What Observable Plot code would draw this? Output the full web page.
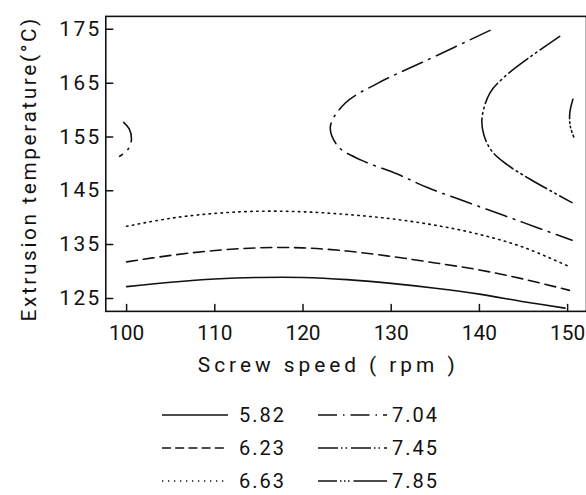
<!DOCTYPE html>
<html><head><meta charset="utf-8">
<script src="https://cdn.jsdelivr.net/npm/d3@7"></script>
<script src="https://cdn.jsdelivr.net/npm/@observablehq/plot@0.6"></script>
<style>
html,body{margin:0;padding:0;background:#fff;overflow:hidden;width:586px;height:495px;}
#chart svg{display:block;}
#legend{display:grid;grid-template-columns:156px auto;grid-auto-rows:33px;margin-left:162px;padding-top:6.5px;font-family:Roboto,"DejaVu Sans",sans-serif;font-size:20px;line-height:20px;letter-spacing:2px;color:#111;}
.item{display:flex;align-items:center;}
.item svg{display:block;margin-right:11px;}
.item.c2 svg{margin-right:5px;}
</style></head><body><div id="chart"></div><div id="legend"></div>
<script>
// ---- data ----
const levels = ["5.82", "6.23", "6.63", "7.04", "7.45", "7.85"];
const xTicks = [100, 110, 120, 130, 140, 150];
const yTicks = [125, 135, 145, 155, 165, 175];
const xLabel = "Screw speed ( rpm )";
const yLabel = "Extrusion temperature(°C)";

const c582_x = [100, 105, 110, 115, 120, 125, 130, 135, 140, 145, 149.7];
const c582_y = [127.2, 128.0, 128.6, 128.9, 128.9, 128.5, 127.8, 126.9, 125.8, 124.4, 123.2];
const c623_x = [100, 105, 110, 115, 120, 125, 130, 135, 140, 145, 150.2];
const c623_y = [131.8, 133.0, 133.9, 134.4, 134.4, 133.8, 132.8, 131.6, 130.3, 128.6, 126.5];
const c663_x = [100, 105, 110, 115, 120, 125, 130, 135, 140, 145, 150.2];
const c663_y = [138.4, 139.9, 140.8, 141.2, 141.1, 140.6, 139.8, 138.6, 136.9, 134.5, 130.9];
const c704a_x = [99.66, 100.3, 100.55, 100.2, 99.2];
const c704a_y = [157.7, 156.5, 154.6, 152.8, 151.4];
const c704b_x = [141.2, 134.1, 128.5, 124.8, 123.1, 124.0, 126.6, 130.7, 134.1, 138.25, 142.8, 146.5, 150.5];
const c704b_y = [174.8, 169.3, 165.0, 161.3, 156.9, 153.2, 150.7, 148.1, 145.6, 143.1, 140.4, 138.2, 135.8];
const c745_x = [149.1, 145.7, 142.8, 141.2, 140.3, 140.5, 141.4, 143.1, 145.8, 150.5];
const c745_y = [173.7, 169.8, 166.1, 163.2, 158.6, 155.4, 152.4, 149.9, 147.1, 142.8];
const c785_x = [150.6, 150.25, 150.3, 150.7];
const c785_y = [162.0, 159.5, 157.0, 155.0];

// segments: [level, xs, ys]
const segments = [
  ["5.82", c582_x, c582_y],
  ["6.23", c623_x, c623_y],
  ["6.63", c663_x, c663_y],
  ["7.04", c704a_x, c704a_y],
  ["7.04", c704b_x, c704b_y],
  ["7.45", c745_x, c745_y],
  ["7.85", c785_x, c785_y]
];

// ---- styles ----
const chartDash = {
  "5.82": null,
  "6.23": "11,6",
  "6.63": "1.5,4.5",
  "7.04": "22,7,1.6,7",
  "7.45": "24,4,1.6,4,1.6,4",
  "7.85": "20,3,1.6,3,1.6,3,1.6,3"
};
const legendDash = {
  "5.82": null,
  "6.23": "9,4.2",
  "6.63": "1.3,4.7",
  "7.04": "19,6,1.5,6",
  "7.45": "20,3,1.5,3,1.5,4",
  "7.85": "19,3,1.5,2.5,1.5,2.5,1.5,4,40"
};

const rows = [];
segments.forEach(([level, xs, ys], i) => {
  xs.forEach((x, j) => rows.push({level, seg: i, x, y: ys[j]}));
});

const tickShape = {draw(ctx, l) { ctx.moveTo(0, 0); ctx.lineTo(0, -l); }};
const font = 'Roboto, "DejaVu Sans", sans-serif';

const lineMarks = levels.map(lv => Plot.line(rows.filter(r => r.level === lv), {
  x: "x", y: "y", z: "seg", curve: "catmull-rom",
  stroke: "#111", strokeWidth: 1.6,
  strokeDasharray: chartDash[lv] || undefined
}));

const chart = Plot.plot({
  width: 590, height: 395,
  marginLeft: 106, marginRight: 0, marginTop: 16, marginBottom: 82,
  style: {fontFamily: font, color: "#111", background: "#fff"},
  x: {domain: [97.64, 152.14], label: null},
  y: {domain: [122.6, 177.4], label: null},
  marks: [
    Plot.frame({stroke: "#111", strokeWidth: 1.6}),
    Plot.axisY(yTicks, {tickSize: 0, tickPadding: 4, fontSize: 21, label: null}),
    Plot.axisX(xTicks, {tickSize: 0, tickPadding: 14, fontSize: 21, label: null}),
    Plot.vector(yTicks, {y: d => d, frameAnchor: "left", rotate: 90, length: 7, anchor: "start", shape: tickShape, stroke: "#111", strokeWidth: 1.5}),
    Plot.vector(xTicks, {x: d => d, frameAnchor: "bottom", rotate: 0, length: 7, anchor: "start", shape: tickShape, stroke: "#111", strokeWidth: 1.5}),
    ...lineMarks,
    Plot.text([xLabel], {text: d => d, frameAnchor: "bottom", textAnchor: "middle", lineAnchor: "middle", dy: 54, dx: -18, fontSize: 21}),
    Plot.text([yLabel], {text: d => d, frameAnchor: "left", textAnchor: "middle", lineAnchor: "middle", rotate: -90, dx: -77, dy: 5, fontSize: 21})
  ]
});
document.getElementById("chart").appendChild(chart);

// letter spacing (visual style of the original typeface)
const svg = d3.select(chart);
svg.selectAll('g[aria-label="y-axis tick label"] text').style("letter-spacing", "2.5px");
svg.selectAll("text").each(function() {
  const t = this.textContent;
  if (t === xLabel) this.style.letterSpacing = "4px";
  if (t === yLabel) this.style.letterSpacing = "2.6px";
});

// ---- legend ----
const legend = document.getElementById("legend");
const order = ["5.82", "7.04", "6.23", "7.45", "6.63", "7.85"];
order.forEach((lv, i) => {
  const div = document.createElement("div");
  div.className = "item" + (i % 2 ? " c2" : "");
  const w = i % 2 ? 69 : 66;
  const dash = legendDash[lv] ? ` stroke-dasharray="${legendDash[lv]}"` : "";
  div.innerHTML = `<svg width="${w}" height="10"><line x1="0" x2="${w}" y1="5" y2="5" stroke="#111" stroke-width="1.5"${dash}/></svg><span>${lv}</span>`;
  legend.appendChild(div);
});
</script></body></html>
